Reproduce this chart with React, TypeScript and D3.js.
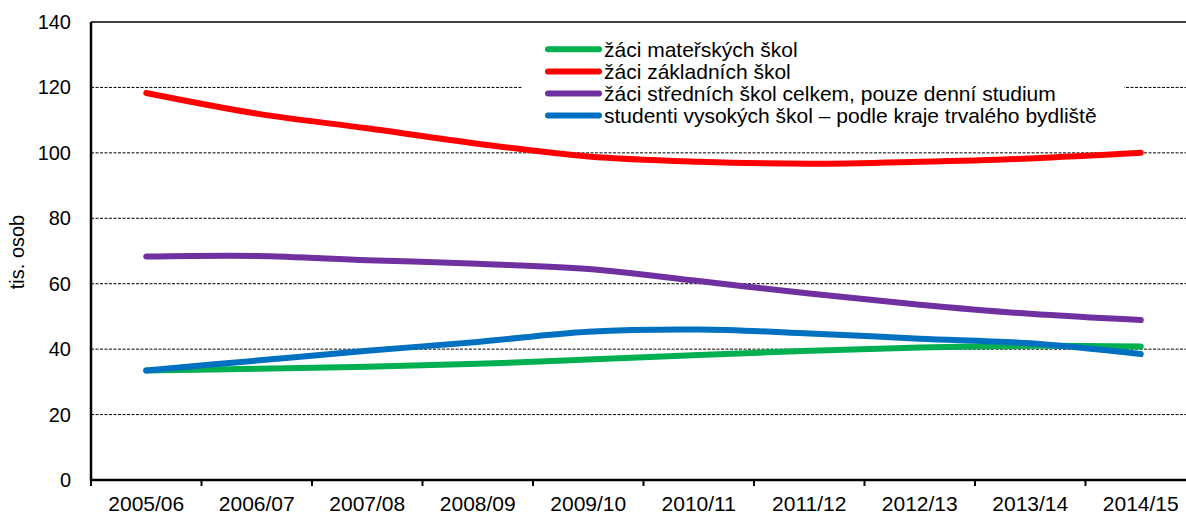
import React from "react";
import * as d3 from "d3";

const categories = ["2005/06", "2006/07", "2007/08", "2008/09", "2009/10", "2010/11", "2011/12", "2012/13", "2013/14", "2014/15"];
const materske = [33.5, 34.0, 34.6, 35.5, 36.8, 38.2, 39.5, 40.5, 41.0, 40.8];
const zakladni = [118.3, 112.0, 107.5, 102.8, 98.9, 97.3, 96.7, 97.3, 98.3, 100.0];
const stredni = [68.3, 68.5, 67.2, 66.1, 64.5, 60.8, 57.0, 53.6, 50.8, 48.9];
const vysoke = [33.5, 36.5, 39.5, 42.2, 45.3, 46.0, 44.8, 43.2, 41.8, 38.5];
const yTicks = [0, 20, 40, 60, 80, 100, 120, 140];
const seriesNames = [
  "žáci mateřských škol",
  "žáci základních škol",
  "žáci středních škol celkem, pouze denní studium",
  "studenti vysokých škol – podle kraje trvalého bydliště",
];
const seriesColors = ["#00B050", "#FF0000", "#7030A0", "#0070C0"];

const W = 1186;
const H = 516;
const left = 91;
const right = 1196;
const top = 22;
const bottom = 480;

export default function App() {
  const x = d3.scaleBand<string>().domain(categories).range([left, right]);
  const y = d3.scaleLinear().domain([0, 140]).range([bottom, top]);
  const series = [materske, zakladni, stredni, vysoke];
  const line = d3
    .line<number>()
    .x((_, i) => (x(categories[i]) as number) + x.bandwidth() / 2)
    .y((d) => y(d))
    .curve(d3.curveCatmullRom.alpha(0.5));
  const font = "Arial, 'Liberation Sans', sans-serif";
  const drawOrder = [1, 2, 0, 3];
  return (
    <svg width={W} height={H} style={{ position: "absolute", left: 0, top: 0, background: "#fff" }} fontFamily={font}>
      {yTicks.filter((t) => t > 0 && t < 140).map((t) => (
        <line key={"g" + t} x1={left} x2={right} y1={y(t)} y2={y(t)} stroke="#000" strokeWidth={1} strokeDasharray="3,1.5" />
      ))}
      <line x1={left} x2={right} y1={y(140)} y2={y(140)} stroke="#000" strokeWidth={1.5} />
      {drawOrder.map((si) => (
        <path key={"s" + si} d={line(series[si]) || ""} fill="none" stroke={seriesColors[si]} strokeWidth={6} strokeLinecap="round" strokeLinejoin="round" />
      ))}
      <line x1={left} x2={left} y1={top} y2={bottom + 1} stroke="#000" strokeWidth={2.5} />
      <line x1={left - 1} x2={right} y1={bottom} y2={bottom} stroke="#000" strokeWidth={2.5} />
      {categories.map((c, i) => (
        <line key={"t" + i} x1={x(c) as number} x2={x(c) as number} y1={bottom} y2={bottom + 6} stroke="#000" strokeWidth={2} />
      ))}
      {yTicks.map((t) => (
        <text key={"yl" + t} x={71} y={y(t)} dy="0.35em" textAnchor="end" fontSize={20} fill="#000">{t}</text>
      ))}
      {categories.map((c) => (
        <text key={"xl" + c} x={(x(c) as number) + x.bandwidth() / 2} y={511} textAnchor="middle" fontSize={21} fill="#000">{c}</text>
      ))}
      <text transform={`translate(24, 252) rotate(-90)`} textAnchor="middle" fontSize={20} fill="#000">tis. osob</text>
      <rect x={522} y={35} width={602} height={94} fill="#fff" />
      {seriesNames.map((n, i) => (
        <g key={"lg" + i} transform={`translate(0, ${49.3 + i * 22.1})`}>
          <line x1={548} x2={599} y1={0} y2={0} stroke={seriesColors[i]} strokeWidth={6} strokeLinecap="round" />
          <text x={604} y={0} dy="0.35em" fontSize={21} fill="#000">{n}</text>
        </g>
      ))}
    </svg>
  );
}
